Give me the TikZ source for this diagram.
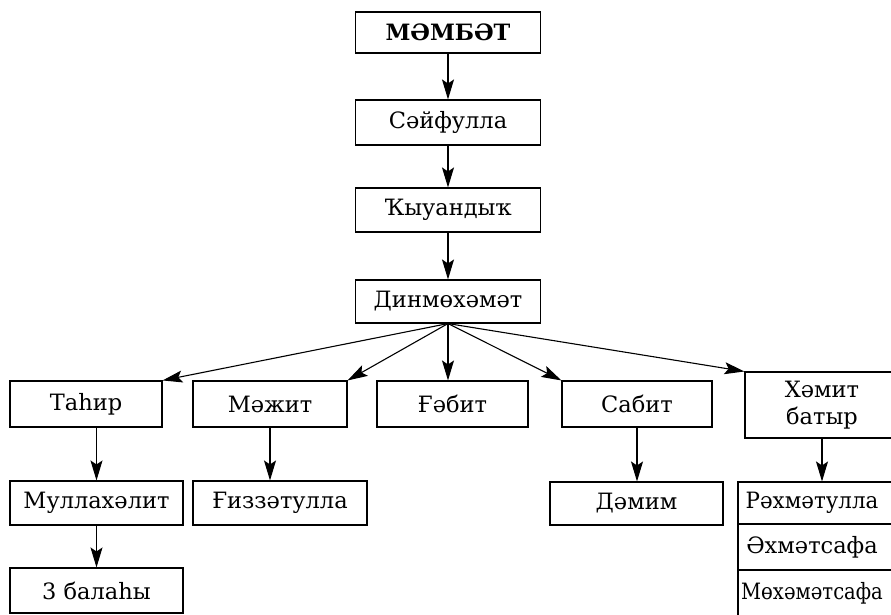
\documentclass[tikz,border=0pt]{standalone}
\usepackage{fontspec}
\usepackage{graphicx}
\setmainfont{DejaVu Serif}
\usetikzlibrary{arrows.meta}
\tikzset{
  box/.style={draw=black, line width=1.1pt, rectangle, inner sep=0pt, align=center, font=\fontsize{22.5}{27}\selectfont},
  arr/.style={line width=1.1pt, -{Stealth[length=20pt,width=12pt,inset=4pt]}}
}
\begin{document}
\begin{tikzpicture}[x=1pt,y=-1pt]
\useasboundingbox (0,0) rectangle (891,614);
\clip (0,0) rectangle (891,614);
\node[box, minimum width=185, minimum height=41] (mambet) at (448,32.5) {\bfseries МӘМБӘТ};
\node[box, minimum width=185, minimum height=45] (sayf) at (448,122.5) {Сәйфулла};
\node[box, minimum width=185, minimum height=44] (quan) at (448,210) {Ҡыуандыҡ};
\node[box, minimum width=185, minimum height=43] (din) at (448,301.5) {Динмөхәмәт};
\node[box, minimum width=152, minimum height=46] (tahir) at (86,404) {Таһир};
\node[box, minimum width=154, minimum height=46] (mazhit) at (270,404) {Мәжит};
\node[box, minimum width=151, minimum height=46] (gabit) at (452.5,404) {Ғәбит};
\node[box, minimum width=150, minimum height=46] (sabit) at (637,404) {Сабит};
\node[box, minimum width=160, minimum height=66] (hamit) at (825,405) {\hspace*{-6pt}Хәмит\\\hspace*{-6pt}батыр};
\node[box, minimum width=173, minimum height=44] (mulla) at (96.5,503) {Муллахәлит};
\node[box, minimum width=174, minimum height=44] (gizz) at (280,503) {Ғиззәтулла};
\node[box, minimum width=173, minimum height=43] (damim) at (636.5,503.5) {Дәмим};
\node[box, minimum width=173, minimum height=45] (balah) at (96.5,590.5) {3 балаһы};
\node[box, minimum width=158, minimum height=42] (rah) at (817,503) {\hspace*{-10pt}\scalebox{0.95}[1]{Рәхмәтулла}};
\node[box, minimum width=158, minimum height=46] (ahm) at (817,547) {\hspace*{-10pt}Әхмәтсафа};
\node[box, minimum width=158, minimum height=46] (moh) at (817,593) {\hspace*{-10pt}\scalebox{0.87}[1]{Мөхәмәтсафа}};
\draw[arr] (mambet.south) -- (sayf.north);
\draw[arr] (sayf.south) -- (quan.north);
\draw[arr] (quan.south) -- (din.north);
\draw[arr] (din.south) -- (tahir.north east);
\draw[arr] (din.south) -- (mazhit.north east);
\draw[arr] (din.south) -- (din.south |- gabit.north);
\draw[arr] (din.south) -- (sabit.north west);
\draw[arr] (din.south) -- (hamit.north west);
\draw[arr] (mulla.north |- tahir.south) -- (mulla.north);
\draw[arr] (mazhit.south) -- (mazhit.south |- gizz.north);
\draw[arr] (sabit.south) -- (sabit.south |- damim.north);
\draw[arr] ([xshift=-3pt]hamit.south) -- ([xshift=-3pt]hamit.south |- rah.north);
\draw[arr] (mulla.south) -- (balah.north);
\end{tikzpicture}
\end{document}
